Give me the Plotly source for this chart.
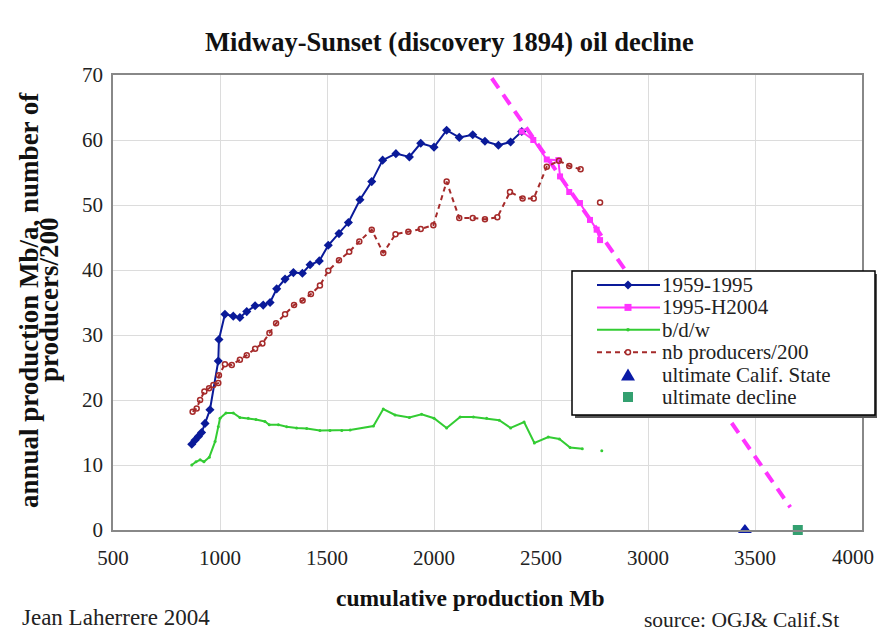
import plotly.graph_objects as go

# 1959-1995 (cumulative Mb, annual production Mb/a)
cum_59_95 = [868, 883, 899, 914, 930, 953, 992, 995, 1023, 1062, 1093, 1125, 1164, 1202,
             1234, 1265, 1304, 1343, 1385, 1421, 1464, 1506, 1556, 1600, 1654, 1709, 1760,
             1822, 1885, 1938, 2000, 2059, 2118, 2181, 2238, 2301, 2358, 2410]
prod_59_95 = [13.2, 13.8, 14.4, 15.0, 16.4, 18.5, 26.0, 29.3, 33.2, 32.9, 32.7, 33.6, 34.5, 34.6,
              35.0, 37.1, 38.6, 39.6, 39.5, 40.8, 41.4, 43.8, 45.6, 47.3, 50.8, 53.6, 56.9,
              57.9, 57.4, 59.5, 58.9, 61.5, 60.4, 60.8, 59.8, 59.2, 59.7, 61.3]

# 1995-H2004
cum_95_04 = [2410, 2464, 2527, 2581, 2589, 2632, 2682, 2729, 2760, 2776]
prod_95_04 = [61.3, 60.0, 57.0, 56.9, 54.4, 52.0, 50.3, 47.7, 46.2, 44.6]

# b/d/w
cum_bdw = [868, 888, 907, 925, 950, 977, 992, 1000, 1028, 1062, 1093, 1132, 1168, 1210, 1230,
           1273, 1312, 1358, 1405, 1467, 1514, 1569, 1608, 1717, 1763, 1818, 1885, 1942, 2000,
           2059, 2122, 2184, 2246, 2305, 2358, 2421, 2469, 2534, 2586, 2636, 2693, None, 2784]
bdw = [10.0, 10.5, 10.8, 10.5, 11.2, 13.6, 15.9, 17.2, 18.0, 18.0, 17.3, 17.2, 17.0, 16.7, 16.2,
       16.2, 15.9, 15.7, 15.6, 15.3, 15.3, 15.3, 15.4, 16.0, 18.6, 17.7, 17.3, 17.8, 17.2,
       15.7, 17.4, 17.4, 17.2, 16.9, 15.7, 16.6, 13.4, 14.3, 14.0, 12.7, 12.5, None, 12.2]

# nb producers / 200
cum_prod = [872, 891, 907, 927, 949, 969, 992, 995, 1023, 1055, 1093, 1125, 1164, 1198, 1231,
            1262, 1304, 1346, 1386, 1425, 1467, 1506, 1556, 1604, 1651, 1709, 1763, 1820, 1880,
            1938, 1997, 2059, 2118, 2181, 2238, 2296, 2355, 2414, 2466, 2527, 2584, 2632, 2685,
            None, 2776]
producers = [18.2, 18.7, 20.0, 21.3, 21.8, 22.3, 22.6, 23.8, 25.5, 25.4, 26.2, 26.9, 27.9, 28.7, 30.3,
             31.8, 33.2, 34.6, 35.3, 36.3, 37.6, 39.9, 41.5, 42.8, 44.4, 46.2, 42.6, 45.5, 45.9,
             46.3, 46.9, 53.6, 48.0, 48.0, 47.8, 48.1, 52.0, 51.0, 51.0, 55.9, 56.8, 56.0, 55.5,
             None, 50.4]

# decline trend
cum_trend = [2270, 3665]
prod_trend = [69.5, 3.5]

ult_state = [3453]
ult_decline = [3700]

x_ticks = [500, 1000, 1500, 2000, 2500, 3000, 3500, 4000]
y_ticks = [0, 10, 20, 30, 40, 50, 60, 70]

legend_names = ["1959-1995", "1995-H2004", "b/d/w", "nb producers/200",
                "ultimate Calif. State", "ultimate decline"]

FONT = "Liberation Serif, Times New Roman, serif"
BLUE, PINK, GREEN, RED = "#0a1a99", "#ff33ff", "#33cc33", "#a52a2a"
TRI, SQ = "#0a1aa6", "#33a070"

fig = go.Figure()

fig.add_trace(go.Scatter(x=cum_trend, y=prod_trend, mode="lines",
                         line=dict(color=PINK, width=4, dash="12px,8px")))
fig.add_trace(go.Scatter(x=cum_59_95, y=prod_59_95, mode="lines+markers", name=legend_names[0],
                         line=dict(color=BLUE, width=2),
                         marker=dict(symbol="diamond", size=7, color=BLUE)))
fig.add_trace(go.Scatter(x=cum_95_04, y=prod_95_04, mode="lines+markers", name=legend_names[1],
                         line=dict(color=PINK, width=2),
                         marker=dict(symbol="square", size=6, color=PINK)))
fig.add_trace(go.Scatter(x=cum_bdw, y=bdw, mode="lines+markers", name=legend_names[2],
                         line=dict(color=GREEN, width=2),
                         marker=dict(symbol="circle", size=3, color=GREEN)))
fig.add_trace(go.Scatter(x=cum_prod, y=producers, mode="lines+markers", name=legend_names[3],
                         line=dict(color=RED, width=2, dash="5px,4px"),
                         marker=dict(symbol="circle-open", size=5, color=RED,
                                     line=dict(width=1.5))))
fig.add_trace(go.Scatter(x=ult_state, y=[0], mode="markers", name=legend_names[4],
                         cliponaxis=False,
                         marker=dict(symbol="triangle-up", size=12, color=TRI)))
fig.add_trace(go.Scatter(x=ult_decline, y=[0], mode="markers", name=legend_names[5],
                         cliponaxis=False,
                         marker=dict(symbol="square", size=10, color=SQ)))

fig.update_traces(showlegend=False)

# the page body keeps its 8px margin, so the figure is sized to fit the window
fig.update_layout(
    width=869, height=623,
    margin=dict(l=105, r=15, t=67, b=101),
    plot_bgcolor="white", paper_bgcolor="white",
    font=dict(family=FONT, size=20, color="#222"),
    xaxis=dict(range=[500, 4000], tickvals=x_ticks[:-1], showgrid=True, gridcolor="#dcdcdc",
               showline=True, linecolor="#888", linewidth=1.5, mirror=True,
               zeroline=False, ticks="", tickfont=dict(size=21), ticklabelstandoff=8),
    yaxis=dict(range=[0, 70], tickvals=y_ticks, showgrid=True, gridcolor="#dcdcdc",
               showline=True, linecolor="#888", linewidth=1.5, mirror=True,
               zeroline=False, ticks="", tickfont=dict(size=21), ticklabelstandoff=4),
    showlegend=False,
)


# page pixel -> paper coordinates of the plot area
def fx(px):
    return (px - 113) / 749


def fy(py):
    return (530 - py) / 455


# last x tick label is pushed left to stay inside the frame, as in Excel
fig.add_annotation(text=str(x_ticks[-1]), xref="x", yref="paper", x=x_ticks[-1], y=fy(557),
                   xshift=14, showarrow=False, xanchor="right", yanchor="middle",
                   font=dict(size=21, color="#222"))

fig.add_annotation(text="<b>Midway-Sunset (discovery 1894) oil decline</b>",
                   xref="paper", yref="paper", x=fx(449), y=fy(42), showarrow=False,
                   xanchor="center", yanchor="middle", font=dict(size=26.5, color="#111"))
fig.add_annotation(text="<b>cumulative production Mb</b>",
                   xref="paper", yref="paper", x=fx(470), y=fy(598), showarrow=False,
                   xanchor="center", yanchor="middle", font=dict(size=23.5, color="#111"))
fig.add_annotation(text="<b>annual production Mb/a, number of</b>",
                   xref="paper", yref="paper", x=fx(29), y=fy(300), showarrow=False,
                   textangle=-90, xanchor="center", yanchor="middle",
                   font=dict(size=27, color="#111"))
fig.add_annotation(text="<b>producers/200</b>",
                   xref="paper", yref="paper", x=fx(49), y=fy(300), showarrow=False,
                   textangle=-90, xanchor="center", yanchor="middle",
                   font=dict(size=27, color="#111"))
fig.add_annotation(text="Jean Laherrere 2004",
                   xref="paper", yref="paper", x=fx(20), y=fy(617), showarrow=False,
                   xanchor="left", yanchor="middle", font=dict(size=23, color="#222"))
fig.add_annotation(text="source: OGJ& Calif.St",
                   xref="paper", yref="paper", x=fx(841), y=fy(620), showarrow=False,
                   xanchor="right", yanchor="middle", font=dict(size=21.5, color="#222"))

# hand-drawn legend box (Excel style, with shadow)
fig.add_shape(type="rect", xref="paper", yref="paper", layer="above",
              x0=fx(575), x1=fx(890), y0=fy(418), y1=fy(274),
              fillcolor="#555", line=dict(width=0))
fig.add_shape(type="rect", xref="paper", yref="paper", layer="above",
              x0=fx(572), x1=fx(875), y0=fy(415), y1=fy(271),
              fillcolor="white", line=dict(color="black", width=1.5))

rows = [285, 307.4, 329.8, 352.2, 374.6, 397]
lx0, lx1, mx = 597, 660, 628


def poly(points):
    return "M " + " L ".join(f"{fx(a)},{fy(b)}" for a, b in points) + " Z"


def add_key_line(row, color, dash="solid"):
    fig.add_shape(type="line", xref="paper", yref="paper", layer="above",
                  x0=fx(lx0), x1=fx(lx1), y0=fy(row), y1=fy(row),
                  line=dict(color=color, width=2, dash=dash))


add_key_line(rows[0], BLUE)
fig.add_shape(type="path", xref="paper", yref="paper", layer="above",
              path=poly([(mx, rows[0] - 4.5), (mx + 4.5, rows[0]), (mx, rows[0] + 4.5), (mx - 4.5, rows[0])]),
              fillcolor=BLUE, line=dict(width=0))
add_key_line(rows[1], PINK)
fig.add_shape(type="rect", xref="paper", yref="paper", layer="above",
              x0=fx(mx - 3.5), x1=fx(mx + 3.5), y0=fy(rows[1] + 3.5), y1=fy(rows[1] - 3.5),
              fillcolor=PINK, line=dict(width=0))
add_key_line(rows[2], GREEN)
fig.add_shape(type="circle", xref="paper", yref="paper", layer="above",
              x0=fx(mx - 1.8), x1=fx(mx + 1.8), y0=fy(rows[2] + 1.8), y1=fy(rows[2] - 1.8),
              fillcolor=GREEN, line=dict(width=0))
add_key_line(rows[3], RED, "5px,4px")
fig.add_shape(type="circle", xref="paper", yref="paper", layer="above",
              x0=fx(mx - 2.5), x1=fx(mx + 2.5), y0=fy(rows[3] + 2.5), y1=fy(rows[3] - 2.5),
              fillcolor="white", line=dict(color=RED, width=1.5))
fig.add_shape(type="path", xref="paper", yref="paper", layer="above",
              path=poly([(mx - 7, rows[4] + 6), (mx + 7, rows[4] + 6), (mx, rows[4] - 6)]),
              fillcolor=TRI, line=dict(width=0))
fig.add_shape(type="rect", xref="paper", yref="paper", layer="above",
              x0=fx(mx - 5), x1=fx(mx + 5), y0=fy(rows[5] + 5), y1=fy(rows[5] - 5),
              fillcolor=SQ, line=dict(width=0))

for name, row in zip(legend_names, rows):
    fig.add_annotation(text=name, xref="paper", yref="paper", x=fx(660), y=fy(row),
                       showarrow=False, xanchor="left", yanchor="middle",
                       font=dict(size=21, color="#222"))

fig.write_html("out.html")
